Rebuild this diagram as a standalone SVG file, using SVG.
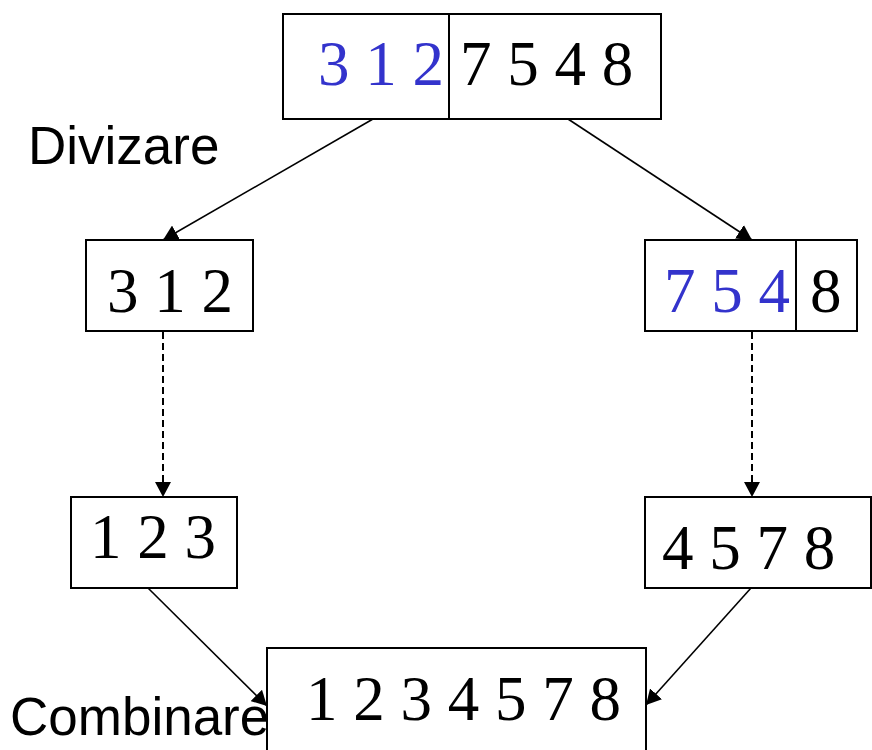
<svg xmlns="http://www.w3.org/2000/svg" width="872" height="750" viewBox="0 0 872 750">
  <style>
    .box { fill: #ffffff; stroke: #000000; stroke-width: 2; }
    .sep { stroke: #000000; stroke-width: 2; }
    .num { font-family: "Liberation Serif", "Times New Roman", serif; font-size: 63px; fill: #000000; }
    .hl { fill: #3333cc; }
    .lbl { font-family: "Liberation Sans", Arial, sans-serif; font-size: 53px; fill: #000000; }
    .edge { fill: none; stroke: #000000; stroke-width: 1.6; marker-end: url(#head); }
    .dash { stroke-dasharray: 7 4; stroke-width: 2; }
  </style>
  <defs>
    <marker id="head" viewBox="0 0 15 16" refX="15" refY="8" markerWidth="15" markerHeight="16" markerUnits="userSpaceOnUse" orient="auto">
      <path d="M0,0 L15,8 L0,16 z" fill="#000000"/>
    </marker>
  </defs>

  <rect width="872" height="750" fill="#ffffff"/>

  <g id="connectors">
    <line class="edge" x1="373" y1="119" x2="163" y2="240"/>
    <line class="edge" x1="568" y1="119" x2="752" y2="240"/>
    <line class="edge dash" x1="163" y1="332" x2="163" y2="497"/>
    <line class="edge dash" x1="752" y1="332" x2="752" y2="497"/>
    <line class="edge" x1="148" y1="588" x2="267" y2="706"/>
    <line class="edge" x1="751" y1="588" x2="646" y2="705"/>
  </g>

  <g id="node-split">
    <rect class="box" x="283" y="14" width="378" height="105"/>
    <line class="sep" x1="449" y1="14" x2="449" y2="119"/>
    <text class="num hl" x="318" y="85" xml:space="preserve">3 1 2</text>
    <text class="num" x="460" y="85">7 5 4 8</text>
  </g>

  <g id="label-divide">
    <text class="lbl" x="28" y="164">Divizare</text>
  </g>

  <g id="node-left">
    <rect class="box" x="86" y="240" width="167" height="91"/>
    <text class="num" x="107" y="312">3 1 2</text>
  </g>

  <g id="node-right">
    <rect class="box" x="645" y="240" width="212" height="91"/>
    <line class="sep" x1="796" y1="240" x2="796" y2="331"/>
    <text class="num hl" x="664" y="312">7 5 4</text>
    <text class="num" x="810" y="312">8</text>
  </g>

  <g id="node-left-sorted">
    <rect class="box" x="71" y="497" width="166" height="91"/>
    <text class="num" x="90" y="558">1 2 3</text>
  </g>

  <g id="node-right-sorted">
    <rect class="box" x="645" y="497" width="226" height="91"/>
    <text class="num" x="662" y="569">4 5 7 8</text>
  </g>

  <g id="node-merged">
    <rect class="box" x="267" y="648" width="379" height="110"/>
    <text class="num" x="306" y="720">1 2 3 4 5 7 8</text>
  </g>

  <g id="label-combine">
    <text class="lbl" x="10" y="735">Combinare</text>
  </g>
</svg>
